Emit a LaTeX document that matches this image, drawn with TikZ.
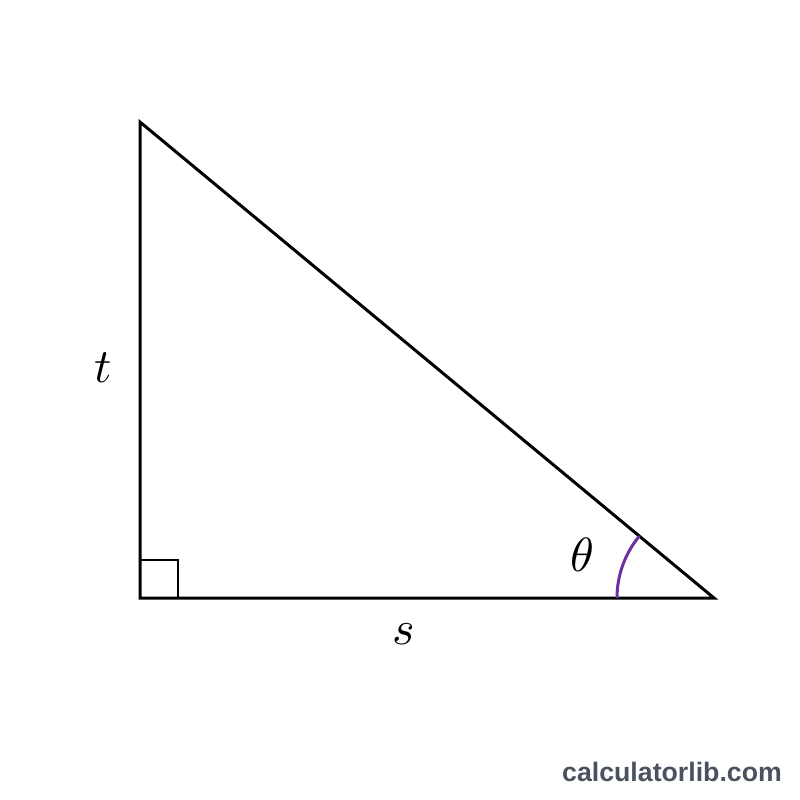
\documentclass[tikz,border=0pt]{standalone}
\usepackage{fontspec}
\newfontfamily\wmfont{Liberation Sans}
\usepackage{unicode-math}
\begin{document}
\begin{tikzpicture}[x=1pt,y=-1pt,
  edge/.style={line width=3pt,line join=miter},
  lbl/.style={font=\fontsize{48}{54}\selectfont,inner sep=0pt},
  anglearc/.style={line width=3pt,draw={rgb,255:red,112;green,48;blue,160}}]
\useasboundingbox[fill=white] (0,0) rectangle (800,800);
\coordinate (A) at (140,122);
\coordinate (C) at (140,598);
\coordinate (B) at (714,598);
\draw[edge] (A) -- (C) -- (B) -- cycle;
\draw[line width=2.8pt] (140,560) -- (178,560) -- (178,598);
\draw[anglearc] ([xshift=-97pt]B) arc[start angle=180,end angle=140.3,radius=97pt];
\node[lbl] (t) at (103,368) {$t$};
\node[lbl] (s) at (404,634) {$s$};
\node[lbl] (th) at (582,555) {$\theta$};
\node[anchor=base east,inner sep=0pt,text={rgb,255:red,74;green,82;blue,96},font=\wmfont\bfseries\fontsize{26.7}{30}\selectfont] (wm) at (782,781) {calculatorlib.com};
\end{tikzpicture}
\end{document}
